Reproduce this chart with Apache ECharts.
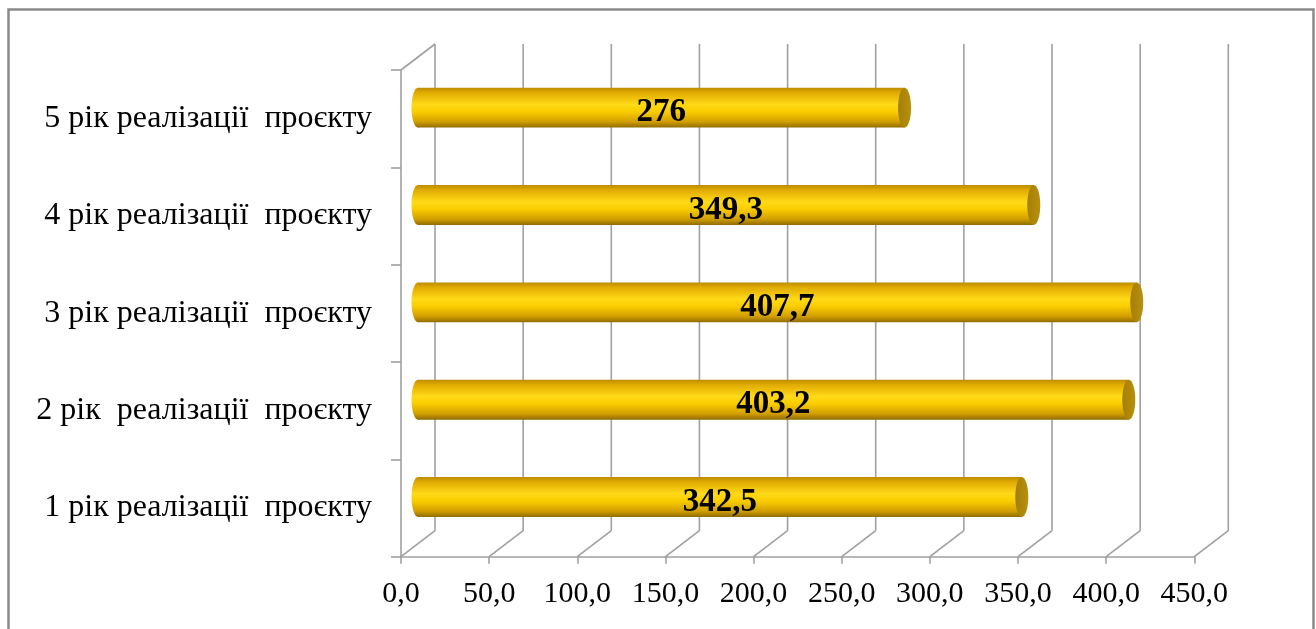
<!DOCTYPE html>
<html>
<head>
<meta charset="utf-8">
<script src="https://cdn.jsdelivr.net/npm/echarts@6/dist/echarts.min.js"></script>
<style>
  html, body { margin: 0; padding: 0; background: #fff; }
  #chart { width: 1316px; height: 629px; }
</style>
</head>
<body>
<div id="chart"></div>
<script>
// Categories (bottom to top on the category axis)
const categories = [
  '1 рік реалізації  проєкту',
  '2 рік  реалізації  проєкту',
  '3 рік реалізації  проєкту',
  '4 рік реалізації  проєкту',
  '5 рік реалізації  проєкту'
];
// Values per year
const values = [342.5, 403.2, 407.7, 349.3, 276];
// Value-axis ticks
const ticks = [0, 50, 100, 150, 200, 250, 300, 350, 400, 450];

// 3D depth offset of the back wall relative to the front plane
const DX = 34, DY = -26;
const SERIF = '"Liberation Serif", "Times New Roman", serif';
const GRID_COLOR = '#a0a0a0';

const chart = echarts.init(document.getElementById('chart'), null, { renderer: 'canvas' });

const fmtNum = v => String(v).replace('.', ',');

// Walls and floor lines of the 3D box
function renderFrame(params, api) {
  const cs = params.coordSys;
  const v = api.value(0);
  const x = api.coord([v, 0])[0];
  const bottom = cs.y + cs.height;
  const top = cs.y;
  const style = { stroke: GRID_COLOR, lineWidth: 1.6 };
  const children = [
    // floor line from front tick to the back wall
    { type: 'line', shape: { x1: x, y1: bottom, x2: x + DX, y2: bottom + DY }, style },
    // vertical gridline on the back wall
    { type: 'line', shape: { x1: x + DX, y1: bottom + DY, x2: x + DX, y2: top + DY }, style }
  ];
  if (params.dataIndex === 0) {
    // top edge of the side wall
    children.push({ type: 'line', shape: { x1: cs.x, y1: top, x2: cs.x + DX, y2: top + DY }, style });
  }
  return { type: 'group', children };
}

// Horizontal cylinders placed at mid depth
function renderCylinder(params, api) {
  const v = api.value(0);
  const cat = api.value(1);
  const start = api.coord([0, cat]);
  const end = api.coord([v, cat]);
  const band = api.size([0, 1])[1];
  const h = band * 0.41;
  const cy = start[1] + DY / 2 + 2;
  const x0 = start[0] + DX / 2;
  const x1 = end[0] + DX / 2;
  const rx = 6.5;
  const ry = h / 2;
  const grad = new echarts.graphic.LinearGradient(0, 0, 0, 1, [
    { offset: 0, color: '#bb8c00' },
    { offset: 0.12, color: '#e0aa00' },
    { offset: 0.42, color: '#ffda18' },
    { offset: 0.6, color: '#f9cd00' },
    { offset: 0.85, color: '#d29f00' },
    { offset: 1, color: '#8f6c00' }
  ]);
  const capGrad = new echarts.graphic.LinearGradient(0, 0, 1, 0, [
    { offset: 0, color: '#a47f08' },
    { offset: 1, color: '#b8900c' }
  ]);
  return {
    type: 'group',
    children: [
      { type: 'ellipse', shape: { cx: x0, cy: cy, rx: rx, ry: ry }, style: { fill: grad } },
      { type: 'rect', shape: { x: x0, y: cy - ry, width: x1 - x0, height: h }, style: { fill: grad } },
      { type: 'ellipse', shape: { cx: x1, cy: cy, rx: rx, ry: ry }, style: { fill: capGrad } },
      {
        type: 'text',
        x: (x0 + x1) / 2,
        y: cy + 5,
        style: {
          text: fmtNum(v),
          align: 'center',
          verticalAlign: 'middle',
          fontFamily: SERIF,
          fontWeight: 'bold',
          fontSize: 33,
          fill: '#000'
        }
      }
    ]
  };
}

chart.setOption({
  animation: false,
  backgroundColor: '#fff',
  graphic: [{
    type: 'rect',
    left: 6, top: 7,
    shape: { width: 1305, height: 640 },
    style: { fill: 'none', stroke: '#8a8a8a', lineWidth: 2.5 },
    silent: true
  }],
  grid: { left: 401, right: 121.7, top: 70, bottom: 72.3, containLabel: false },
  xAxis: {
    type: 'value',
    min: 0, max: 450, interval: 50,
    axisLine: { show: true, lineStyle: { color: GRID_COLOR, width: 1.6 } },
    axisTick: { show: true, length: 7, lineStyle: { color: GRID_COLOR, width: 1.6 } },
    splitLine: { show: false },
    axisLabel: {
      margin: 22,
      fontFamily: SERIF, fontSize: 30, color: '#000',
      formatter: v => v.toFixed(1).replace('.', ',')
    }
  },
  yAxis: {
    type: 'category',
    data: categories,
    axisLine: { show: true, lineStyle: { color: GRID_COLOR, width: 1.6 } },
    axisTick: { show: true, length: 10, lineStyle: { color: GRID_COLOR, width: 1.6 } },
    axisLabel: { margin: 29, fontFamily: SERIF, fontSize: 32, color: '#000' },
    splitLine: { show: false }
  },
  series: [
    {
      type: 'custom',
      z: 1,
      silent: true,
      renderItem: renderFrame,
      data: ticks.map(t => [t, 0])
    },
    {
      type: 'custom',
      z: 3,
      silent: true,
      renderItem: renderCylinder,
      data: values.map((v, i) => [v, i])
    }
  ]
});
</script>
</body>
</html>
